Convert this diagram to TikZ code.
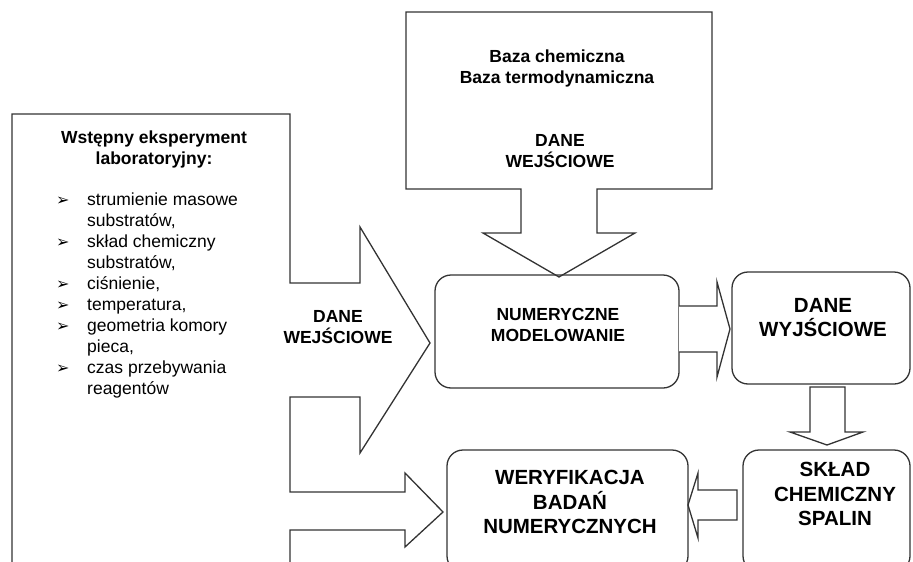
\documentclass[tikz,border=0pt]{standalone}
\usepackage{fontspec}
\setmainfont{Liberation Sans}
\newfontfamily\symfont{DejaVu Sans}
\newcommand{\bul}{{\symfont\fontsize{16}{16}\selectfont ➢}}
\begin{document}
\begin{tikzpicture}[
    x=1pt, y=-1pt,
    box/.style={draw=black!80, line width=1.3pt, rounded corners=16pt, inner sep=0pt},
    frame/.style={draw=black!80, line width=1.3pt},
    blk/.style={draw=black!80, line width=1.3pt, fill=white},
    txt/.style={font=\bfseries\fontsize{17.5}{21}\selectfont, align=center, inner sep=0pt},
    big/.style={font=\bfseries\fontsize{20.5}{24.5}\selectfont, align=center, inner sep=0pt},
    lst/.style={font=\fontsize{17.5}{21}\selectfont, inner sep=0pt},
]
\useasboundingbox (0,0) rectangle (913,562);
\clip (0,0) rectangle (913,562);

% Left frame with the two outgoing arrows
\draw[frame] (12,580) -- (12,114) -- (290,114) -- (290,283) -- (360,283) -- (360,227)
    -- (430,343) -- (360,453) -- (360,397) -- (290,397) -- (290,492) -- (405,492)
    -- (405,473) -- (443,512) -- (405,547) -- (405,530) -- (290,530) -- (290,580);

% Top frame with the down arrow
\draw[frame] (406,12) -- (712,12) -- (712,189) -- (597,189) -- (597,233) -- (635,233)
    -- (559,277) -- (483,233) -- (521,233) -- (521,189) -- (406,189) -- cycle;

% Boxes
\node[box, minimum width=244pt, minimum height=113pt] (num)   at (557,331.5) {};
\node[box, minimum width=178pt, minimum height=112pt] (out)   at (821,328)   {};
\node[box, minimum width=167pt, minimum height=122pt] (sklad) at (826.5,511) {};
\node[box, minimum width=241pt, minimum height=122pt] (wer)   at (567.5,511) {};

% Block arrows between boxes
\draw[blk] (679,306) -- (717,306) -- (717,282) -- (730,329) -- (717,377) -- (717,352) -- (679,352);
\draw[blk] (810,387) -- (810,432) -- (790,432) -- (827,445) -- (863,432) -- (845,432) -- (845,387) -- cycle;
\draw[blk] (737,490) -- (698,490) -- (698,473) -- (688,505) -- (698,538) -- (698,520) -- (737,520) -- cycle;

% Left frame texts
\node[txt] (title) at (154,149) {Wstępny eksperyment\\laboratoryjny:};
\node[lst, anchor=north west] (items) at (56,191) {%
  \begin{tabular}{@{}p{31pt}@{}l@{}}
  \bul & strumienie masowe\\
       & substratów,\\
  \bul & skład chemiczny\\
       & substratów,\\
  \bul & ciśnienie,\\
  \bul & temperatura,\\
  \bul & geometria komory\\
       & pieca,\\
  \bul & czas przebywania\\
       & reagentów
  \end{tabular}};
\node[txt] (daneleft) at (338,327.5) {DANE\\WEJŚCIOWE};

% Top frame texts
\node[txt] (baza)    at (557,68.5) {Baza chemiczna\\Baza termodynamiczna};
\node[txt] (danetop) at (560,151)  {DANE\\WEJŚCIOWE};

% Box texts
\node[txt] (numtxt)   at (558,325)   {NUMERYCZNE\\MODELOWANIE};
\node[big] (outtxt)   at (823,317.5) {DANE\\WYJŚCIOWE};
\node[big] (skladtxt) at (835,494)   {SKŁAD\\CHEMICZNY\\SPALIN};
\node[big] (wertxt)   at (570,502)   {WERYFIKACJA\\BADAŃ\\NUMERYCZNYCH};

\end{tikzpicture}
\end{document}
